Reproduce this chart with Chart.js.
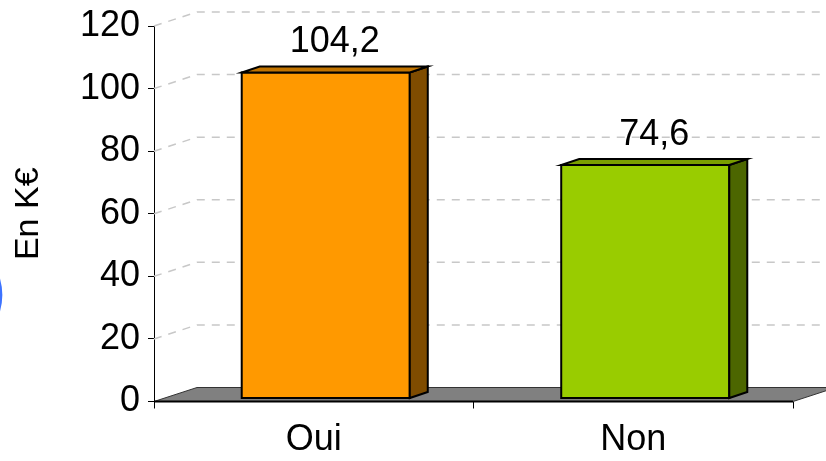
<!DOCTYPE html>
<html>
<head>
<meta charset="utf-8">
<script src="https://cdn.jsdelivr.net/npm/chart.js@4"></script>
<style>
    body { margin: 0; background: #ffffff; }
</style>
</head>
<body>
<canvas id="myChart" width="826" height="461"></canvas>
<script>
const categories = ['Oui', 'Non'];
const montants = [104.2, 74.6];
const labelsValeurs = ['104,2', '74,6'];
const faceColors = ['#ff9900', '#99cc00'];
const sideColors = ['#7f4c00', '#4c6600'];
const topColors = ['#c27400', '#7a9e00'];
const yTicks = [0, 20, 40, 60, 80, 100, 120];

// profondeur de la vue 3D
const depthX = 43;
const depthY = -14;
const barShiftX = 12;
const barShiftY = -3;
const barDepthX = 18;
const barDepthY = -6;

const fontFamily = '"Liberation Sans", Arial, sans-serif';

const floorAndGrid = {
    id: 'floorAndGrid',
    beforeDatasetsDraw(chart) {
        const ctx = chart.ctx;
        const area = chart.chartArea;
        const y = chart.scales.y;
        ctx.save();

        // sol gris
        const y0 = y.getPixelForValue(0);
        ctx.beginPath();
        ctx.moveTo(area.left, y0);
        ctx.lineTo(area.right, y0);
        ctx.lineTo(area.right + depthX, y0 + depthY);
        ctx.lineTo(area.left + depthX, y0 + depthY);
        ctx.closePath();
        ctx.fillStyle = '#808080';
        ctx.fill();
        ctx.strokeStyle = '#333333';
        ctx.lineWidth = 1;
        ctx.stroke();

        // grille pointillée
        ctx.setLineDash([8, 7]);
        ctx.strokeStyle = '#c8c8c8';
        ctx.lineWidth = 1.5;
        for (let i = 1; i < yTicks.length; i++) {
            const py = y.getPixelForValue(yTicks[i]);
            ctx.beginPath();
            ctx.moveTo(area.left, py);
            ctx.lineTo(area.left + depthX, py + depthY);
            ctx.lineTo(chart.width, py + depthY);
            ctx.stroke();
        }
        ctx.setLineDash([]);

        // bord avant du sol
        ctx.beginPath();
        ctx.moveTo(area.left, y0);
        ctx.lineTo(area.right, y0);
        ctx.strokeStyle = '#000000';
        ctx.lineWidth = 2;
        ctx.stroke();
        ctx.restore();
    }
};

const bars3d = {
    id: 'bars3d',
    afterDatasetsDraw(chart) {
        const ctx = chart.ctx;
        const meta = chart.getDatasetMeta(0);
        ctx.save();
        ctx.lineWidth = 2;
        ctx.strokeStyle = '#000000';
        ctx.lineJoin = 'miter';
        for (let i = 0; i < meta.data.length; i++) {
            const bar = meta.data[i];
            const xl = bar.x - bar.width / 2 + barShiftX;
            const xr = bar.x + bar.width / 2 + barShiftX;
            const yt = bar.y + barShiftY;
            const yb = bar.base + barShiftY;

            // face avant
            ctx.fillStyle = faceColors[i];
            ctx.beginPath();
            ctx.rect(xl, yt, xr - xl, yb - yt);
            ctx.fill();
            ctx.stroke();

            // côté
            ctx.fillStyle = sideColors[i];
            ctx.beginPath();
            ctx.moveTo(xr, yt);
            ctx.lineTo(xr + barDepthX, yt + barDepthY);
            ctx.lineTo(xr + barDepthX, yb + barDepthY);
            ctx.lineTo(xr, yb);
            ctx.closePath();
            ctx.fill();
            ctx.stroke();

            // dessus
            ctx.fillStyle = topColors[i];
            ctx.beginPath();
            ctx.moveTo(xl, yt);
            ctx.lineTo(xr, yt);
            ctx.lineTo(xr + barDepthX, yt + barDepthY);
            ctx.lineTo(xl + barDepthX, yt + barDepthY);
            ctx.closePath();
            ctx.fill();
            ctx.stroke();

            // valeur
            ctx.fillStyle = '#000000';
            ctx.font = '36px ' + fontFamily;
            ctx.textAlign = 'center';
            ctx.textBaseline = 'alphabetic';
            ctx.fillText(labelsValeurs[i], (xl + xr) / 2 + barDepthX / 2, yt - 20);
        }
        ctx.restore();
    },
    afterDraw(chart) {
        // petit arc bleu au bord gauche
        const ctx = chart.ctx;
        ctx.save();
        ctx.strokeStyle = 'rgba(40,100,255,0.9)';
        ctx.lineWidth = 2.5;
        ctx.beginPath();
        ctx.arc(-60, 295, 61, -0.33, 0.33);
        ctx.stroke();
        ctx.restore();
    }
};

let myChart;
function init() {
    Chart.defaults.font.family = fontFamily;
    Chart.defaults.color = '#000000';

    const ctx = document.getElementById('myChart').getContext('2d');
    myChart = new Chart(ctx, {
        type: 'bar',
        data: {
            labels: categories,
            datasets: [{
                data: montants,
                backgroundColor: 'transparent',
                borderWidth: 0,
                categoryPercentage: 1,
                barPercentage: 0.526
            }]
        },
        options: {
            responsive: false,
            animation: false,
            events: [],
            layout: {
                padding: { top: 26, right: 33, left: 0, bottom: 0 }
            },
            plugins: {
                legend: { display: false },
                tooltip: { enabled: false }
            },
            scales: {
                x: {
                    offset: true,
                    afterFit: (scale) => { scale.height = 59.5; },
                    border: { display: false },
                    grid: {
                        offset: true,
                        drawOnChartArea: false,
                        drawTicks: true,
                        tickLength: 7,
                        color: '#000000'
                    },
                    ticks: {
                        padding: 10,
                        font: { size: 36 },
                        color: '#000000'
                    }
                },
                y: {
                    min: 0,
                    max: 120,
                    afterFit: (scale) => {
                        scale.width = 154;
                        scale.paddingTop = 0;
                        scale.paddingBottom = 0;
                    },
                    afterBuildTicks: (scale) => {
                        scale.ticks = yTicks.map(v => ({ value: v }));
                    },
                    border: { display: true, color: '#000000', width: 1 },
                    grid: {
                        drawOnChartArea: false,
                        drawTicks: true,
                        tickLength: 6,
                        color: '#000000'
                    },
                    ticks: {
                        padding: 8,
                        font: { size: 36 },
                        color: '#000000'
                    },
                    title: {
                        display: true,
                        text: 'En K€',
                        font: { size: 34 },
                        color: '#000000',
                        padding: { top: 8, bottom: 0 }
                    }
                }
            }
        },
        plugins: [floorAndGrid, bars3d]
    });
}

init();
</script>
</body>
</html>
